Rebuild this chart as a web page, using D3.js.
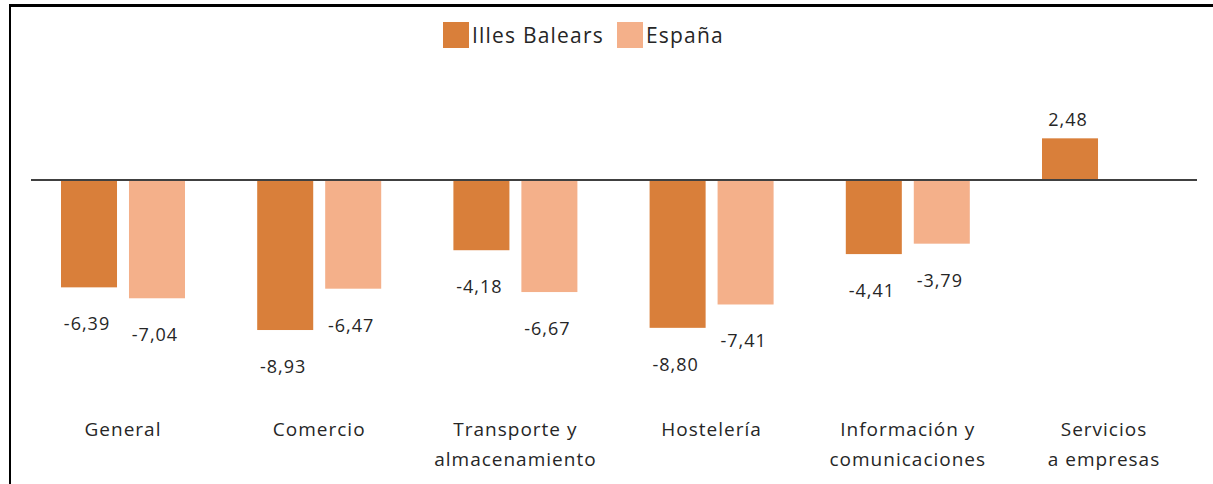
<!DOCTYPE html>
<html><head>
<meta charset="utf-8">
<script src="https://d3js.org/d3.v7.min.js"></script>
<style>
  body { margin: 0; background: #fff; }
  text { font-family: "Open Sans", sans-serif; fill: #262626; }
</style>
</head>
<body>
<div id="chart"></div>
<script>
// data
const categories = ["General", "Comercio", "Transporte y\nalmacenamiento", "Hostelería",
                    "Información y\ncomunicaciones", "Servicios\na empresas"];
const seriesNames = ["Illes Balears", "España"];
const illesBalears = [-6.39, -8.93, -4.18, -8.80, -4.41, 2.48];
const espana = [-7.04, -6.47, -6.67, -7.41, -3.79, null];
const colors = ["#d97f3a", "#f4b08a"];

const width = 1213, height = 484;

let svg = d3.select("#chart").append("svg")
    .attr("width", width)
    .attr("height", height);

// frame (only top and left edges show in the crop)
svg.append("line").attr("x1", 9).attr("x2", width).attr("y1", 5.5).attr("y2", 5.5)
    .attr("stroke", "#000").attr("stroke-width", 3);
svg.append("line").attr("x1", 10).attr("x2", 10).attr("y1", 4).attr("y2", height)
    .attr("stroke", "#000").attr("stroke-width", 2);

// scales
let x0 = d3.scaleBand()
    .domain(categories)
    .range([61, 1166])
    .paddingInner(0.368)
    .paddingOuter(0);

let x1 = d3.scaleBand()
    .domain(seriesNames)
    .range([0, x0.bandwidth()])
    .paddingInner(0.176);

let y = d3.scaleLinear()
    .domain([-10, 5])
    .range([348, 96]);

const color = d3.scaleOrdinal().domain(seriesNames).range(colors);

// flatten into rows
let rows = [];
categories.forEach((c, i) => {
    rows.push({cat: c, series: seriesNames[0], value: illesBalears[i]});
    if (espana[i] !== null) rows.push({cat: c, series: seriesNames[1], value: espana[i]});
});

let bars = svg.append("g").attr("id", "bars");
bars.selectAll("rect")
    .data(rows)
    .enter().append("rect")
    .attr("x", d => x0(d.cat) + x1(d.series))
    .attr("width", x1.bandwidth())
    .attr("y", d => y(Math.max(0, d.value)))
    .attr("height", d => Math.abs(y(d.value) - y(0)))
    .attr("fill", d => color(d.series));

// zero line
svg.append("line")
    .attr("x1", 31).attr("x2", 1197)
    .attr("y1", y(0)).attr("y2", y(0))
    .attr("stroke", "#404040")
    .attr("stroke-width", 2);

// value labels
const fmt = v => v.toFixed(2).replace(".", ",");
svg.append("g").attr("id", "labels")
    .selectAll("text")
    .data(rows)
    .enter().append("text")
    .attr("x", d => x0(d.cat) + x1(d.series) + x1.bandwidth() / 2 - 2)
    .attr("y", d => d.value < 0 ? y(d.value) + 43 : y(d.value) - 12)
    .attr("text-anchor", "middle")
    .style("font-size", "18px")
    .style("letter-spacing", "1px")
    .text(d => fmt(d.value));

// category labels
let catLabels = svg.append("g").attr("id", "categories")
    .selectAll("text")
    .data(categories)
    .enter().append("text")
    .attr("x", d => x0(d) + x0.bandwidth() / 2)
    .attr("y", 436)
    .attr("text-anchor", "middle")
    .style("font-size", "19px")
    .style("letter-spacing", "1px");
catLabels.selectAll("tspan")
    .data(d => d.split("\n"))
    .enter().append("tspan")
    .attr("x", function() { return d3.select(this.parentNode).attr("x"); })
    .attr("dy", (d, i) => i === 0 ? 0 : 30)
    .text(d => d);

// legend
const legendX = [443, 617];
let legend = svg.append("g").attr("id", "legend");
seriesNames.forEach((s, i) => {
    legend.append("rect")
        .attr("x", legendX[i]).attr("y", 22)
        .attr("width", 26).attr("height", 26)
        .attr("fill", color(s));
    legend.append("text")
        .attr("x", legendX[i] + 29).attr("y", 43)
        .style("font-size", "21px")
        .style("letter-spacing", "1.2px")
        .text(s);
});
</script>
</body></html>
